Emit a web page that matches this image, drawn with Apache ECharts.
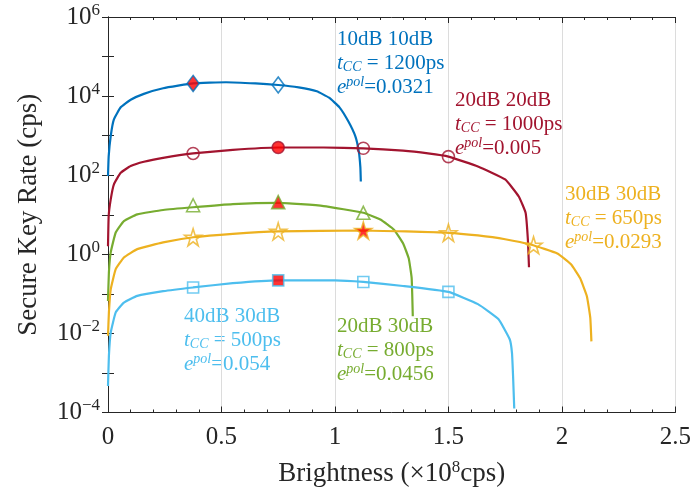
<!DOCTYPE html>
<html>
<head>
<meta charset="utf-8">
<script src="https://cdn.jsdelivr.net/npm/echarts@6/dist/echarts.min.js"></script>
<style>
  html, body { margin: 0; padding: 0; background: #fff; }
  #chart { width: 694px; height: 493px; }
</style>
</head>
<body>
<div id="chart"></div>
<script>
// curve samples: brightness (x1e8 cps) and key rate (cps)
const blueX = [0, 0.003, 0.012, 0.026, 0.056, 0.1, 0.158, 0.243, 0.375, 0.52, 0.65, 0.75, 0.84, 0.92, 0.974, 1.02, 1.06, 1.09, 1.105, 1.112, 1.114];
const blueY = [95, 300, 980, 2570, 5200, 8100, 11400, 15800, 20900, 22400, 20900, 19100, 16600, 13200, 9100, 5200, 2240, 955, 400, 158, 69];

const redX = [0, 0.003, 0.012, 0.026, 0.056, 0.1, 0.158, 0.243, 0.375, 0.55, 0.75, 0.95, 1.125, 1.3, 1.41, 1.5, 1.63, 1.75, 1.81, 1.84, 1.85, 1.855];
const redY = [1.6, 9.3, 24.5, 59, 115, 170, 219, 275, 355, 437, 501, 501, 479, 417, 355, 295, 166, 78, 29, 11.2, 2.4, 0.47];

const greenX = [0, 0.004, 0.012, 0.034, 0.07, 0.129, 0.243, 0.375, 0.55, 0.75, 0.95, 1.125, 1.2, 1.26, 1.3, 1.325, 1.338, 1.343];
const greenY = [0.066, 0.35, 1.12, 3.55, 6.9, 10.2, 13.2, 15.5, 18.6, 20, 16.6, 11.2, 7.6, 4.2, 1.9, 0.79, 0.25, 0.027];

const orangeX = [0, 0.004, 0.012, 0.034, 0.07, 0.129, 0.243, 0.375, 0.55, 0.75, 1.125, 1.5, 1.63, 1.75, 1.865, 1.98, 2.04, 2.08, 2.11, 2.125, 2.13];
const orangeY = [0.0087, 0.034, 0.13, 0.42, 0.83, 1.35, 2.0, 2.7, 3.3, 3.8, 4.0, 3.5, 3.0, 2.4, 1.74, 1.05, 0.56, 0.25, 0.087, 0.025, 0.0063];

const skyX = [0, 0.004, 0.012, 0.034, 0.07, 0.129, 0.243, 0.375, 0.55, 0.75, 1.0, 1.125, 1.3, 1.5, 1.63, 1.72, 1.77, 1.78, 1.785, 1.79];
const skyY = [4.7e-4, 2.7e-3, 0.0105, 0.034, 0.06, 0.089, 0.117, 0.145, 0.186, 0.219, 0.219, 0.2, 0.158, 0.112, 0.055, 0.023, 0.0071, 0.0032, 7.9e-4, 1.26e-4];

// marker points: [x, y, filled?]
const blueMarks = [[0.375, 20900, 1], [0.75, 19100, 0]];
const redMarks = [[0.375, 355, 0], [0.75, 501, 1], [1.125, 479, 0], [1.5, 295, 0]];
const greenMarks = [[0.375, 17.4, 0], [0.75, 20.9, 1], [1.125, 11.2, 0]];
const orangeMarks = [[0.375, 2.7, 0], [0.75, 3.8, 0], [1.125, 4.0, 1], [1.5, 3.5, 0], [1.875, 1.7, 0]];
const skyMarks = [[0.375, 0.145, 0], [0.75, 0.219, 1], [1.125, 0.2, 0], [1.5, 0.112, 0]];

const xTicks = [0, 0.5, 1, 1.5, 2, 2.5];

const labels = [
  { name: '10dB 10dB', tcc: '1200ps', epol: '0.0321', color: '#0072BD', x: 337, y: 27 },
  { name: '20dB 20dB', tcc: '1000ps', epol: '0.005', color: '#A2142F', x: 455, y: 88 },
  { name: '30dB 30dB', tcc: '650ps', epol: '0.0293', color: '#EDB120', x: 565, y: 182 },
  { name: '40dB 30dB', tcc: '500ps', epol: '0.054', color: '#4DBEEE', x: 184, y: 304 },
  { name: '20dB 30dB', tcc: '800ps', epol: '0.0456', color: '#77AC30', x: 337, y: 314 }
];

const STAR = 'path://M50,0 L61,35 L98,35 L68,57 L79,91 L50,70 L21,91 L32,57 L2,35 L39,35 Z';
const FONT = '"Liberation Serif", "DejaVu Serif", serif';

function zip(xs, ys) {
  return xs.map((x, i) => [x, ys[i]]);
}

function curve(xs, ys, color) {
  return {
    type: 'line', data: zip(xs, ys), showSymbol: false, smooth: 0.12,
    lineStyle: { color: color, width: 2.2 }, z: 2, silent: true
  };
}

function marks(pts, color, symbol, size) {
  return {
    type: 'scatter', symbol: symbol, symbolSize: size, z: 3, silent: true,
    data: pts.map(p => ({
      value: [p[0], p[1]],
      itemStyle: {
        color: p[2] ? '#ff0000' : 'rgba(0,0,0,0)',
        borderColor: color, borderWidth: 1.6
      }
    }))
  };
}

function supLabel(v) {
  const e = Math.round(Math.log10(v));
  if (e % 2 !== 0) return '';
  return '{b|10}{s|' + (e < 0 ? '\u2212' + (-e) : e) + '}';
}

const rich = {
  n: { fontFamily: FONT, fontSize: 21, lineHeight: 24, verticalAlign: 'middle' },
  i: { fontFamily: FONT, fontSize: 21, fontStyle: 'italic', lineHeight: 24, verticalAlign: 'middle' },
  sub: { fontFamily: FONT, fontSize: 14, fontStyle: 'italic', lineHeight: 14, padding: [9, 0, 0, 0], verticalAlign: 'middle' },
  sup: { fontFamily: FONT, fontSize: 14, fontStyle: 'italic', lineHeight: 14, padding: [0, 0, 10, 0], verticalAlign: 'middle' }
};

const graphics = labels.map(l => ({
  type: 'text', left: l.x, top: l.y, silent: true,
  style: {
    text: '{n|' + l.name + '}\n{i|t}{sub|CC}{n| = ' + l.tcc + '}\n{i|e}{sup|pol}{n|=' + l.epol + '}',
    fill: l.color, rich: rich, lineHeight: 24
  }
}));

const axisColor = '#262626';

function xAxisCfg(pos, labelsOn) {
  return {
    type: 'value', position: pos, min: 0, max: 2.5, interval: 0.5,
    axisLine: { show: true, onZero: false, lineStyle: { color: axisColor, width: 1 } },
    axisTick: { show: true, inside: true, length: 6, lineStyle: { color: axisColor } },
    minorTick: { show: true, splitNumber: 5, length: 3, lineStyle: { color: axisColor } },
    splitLine: { show: labelsOn, lineStyle: { color: '#dcdcdc', width: 1 } },
    axisLabel: {
      show: labelsOn, margin: 12, color: axisColor, fontFamily: FONT, fontSize: 25,
      formatter: v => (xTicks.indexOf(v) >= 0 ? String(v) : '')
    },
    name: labelsOn ? '{t|Brightness (\u00d710}{s|8}{t|cps)}' : '',
    nameLocation: 'middle', nameGap: 46,
    nameTextStyle: {
      color: axisColor,
      rich: {
        t: { fontFamily: FONT, fontSize: 27, lineHeight: 30, verticalAlign: 'middle' },
        s: { fontFamily: FONT, fontSize: 17, lineHeight: 17, padding: [0, 0, 12, 0], verticalAlign: 'middle' }
      }
    }
  };
}

function yAxisCfg(pos, labelsOn) {
  return {
    type: 'log', logBase: 10, position: pos, min: 1e-4, max: 1e6, interval: 1,
    axisLine: { show: true, lineStyle: { color: axisColor, width: 1 } },
    axisTick: { show: true, inside: true, length: 6, lineStyle: { color: axisColor } },
    minorTick: { show: false },
    splitLine: { show: false },
    axisLabel: {
      show: labelsOn, margin: 8, color: axisColor, formatter: supLabel,
      rich: {
        b: { fontFamily: FONT, fontSize: 25, lineHeight: 28, verticalAlign: 'middle' },
        s: { fontFamily: FONT, fontSize: 17, lineHeight: 17, padding: [0, 0, 13, 0], verticalAlign: 'middle' }
      }
    },
    name: labelsOn ? 'Secure Key Rate (cps)' : '',
    nameLocation: 'middle', nameGap: 66,
    nameTextStyle: { color: axisColor, fontFamily: FONT, fontSize: 27 }
  };
}

const chart = echarts.init(document.getElementById('chart'), null, { renderer: 'canvas' });
chart.setOption({
  animation: false,
  backgroundColor: '#fff',
  grid: { left: 108, right: 16, top: 17, bottom: 80 },
  xAxis: [xAxisCfg('bottom', true), xAxisCfg('top', false)],
  yAxis: [yAxisCfg('left', true), yAxisCfg('right', false)],
  series: [
    curve(blueX, blueY, '#0072BD'),
    curve(redX, redY, '#A2142F'),
    curve(greenX, greenY, '#77AC30'),
    curve(orangeX, orangeY, '#EDB120'),
    curve(skyX, skyY, '#4DBEEE'),
    marks(blueMarks, '#0072BD', 'diamond', [12, 16]),
    marks(redMarks, '#A2142F', 'circle', 12),
    marks(greenMarks, '#77AC30', 'triangle', 13),
    marks(orangeMarks, '#EDB120', STAR, 17),
    marks(skyMarks, '#4DBEEE', 'rect', 11)
  ],
  graphic: graphics
});
</script>
</body>
</html>
